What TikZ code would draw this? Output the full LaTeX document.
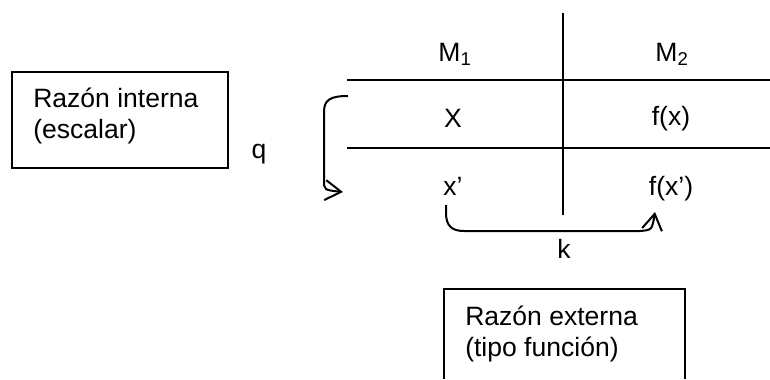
\documentclass[tikz,border=0pt]{standalone}
\usepackage{fontspec}
\setmainfont{Liberation Sans}
\usetikzlibrary{arrows.meta}

\begin{document}
\begin{tikzpicture}[
  x=0.75pt, y=-0.75pt,
  every node/.style={font=\fontsize{19.9}{23.25}\selectfont, inner sep=0pt},
  cell/.style={anchor=base},
  note/.style={anchor=base west, align=left},
  tabline/.style={line width=1.5pt},
  frame/.style={draw, line width=1pt},
  ratio/.style={draw, line width=1.5pt, -{Straight Barb[length=12pt,width=15pt]}}
]
\useasboundingbox (0,0) rectangle (770,379);

% table
\draw[tabline] (563,13) -- (563,215);
\draw[tabline] (347,80) -- (770,80);
\draw[tabline] (347,148) -- (770,148);

\node[cell] (m1) at (455,61) {M\textsubscript{1}};
\node[cell] (m2) at (672,61) {M\textsubscript{2}};
\node[cell] (x1) at (453,127) {X};
\node[cell] (fx1) at (671,125) {f(x)};
\node[cell] (x2) at (453,195) {x’};
\node[cell] (fx2) at (671,195) {f(x’)};

% boxes (base anchor sits on the last line)
\node[frame, minimum width=162pt, minimum height=72pt] (intbox) at (120,120) {};
\node[note] (inttxt) at (33,138) {Razón interna\\(escalar)};
\draw[frame] (444,379) |- (685,289) -- (685,379);
\node[note] (exttxt) at (465,356) {Razón externa\\(tipo función)};

% ratios
\coordinate (qfrom) at (348,96);
\coordinate (qto) at (343,192);
\draw[ratio] (qfrom) .. controls (330,96) and (324,100) .. (324,112) -- (324,180) .. controls (324,190) .. (qto);
\node[cell] (q) at (259,158) {q};

\coordinate (kfrom) at (446,205);
\coordinate (kto) at (655,212);
\draw[ratio] (kfrom) -- (446,213) .. controls (446,226) and (452,231) .. (464,231) -- (640,231) .. controls (652,230) .. (kto);
\node[cell] (k) at (564,258) {k};
\end{tikzpicture}
\end{document}
